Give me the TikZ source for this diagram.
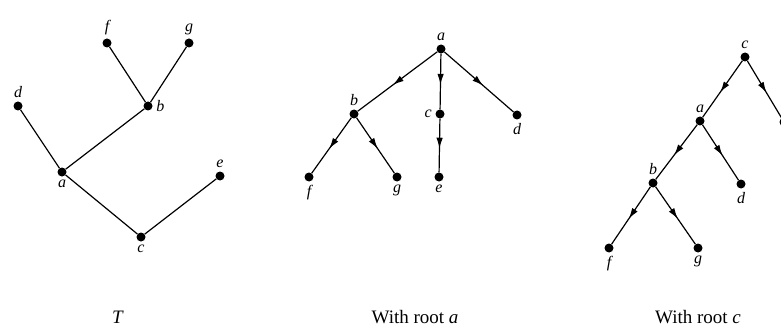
\documentclass[tikz,border=0pt]{standalone}
\usepackage{fontspec}
\setmainfont{Liberation Serif}
\usetikzlibrary{arrows.meta,decorations.markings}

\begin{document}
\begin{tikzpicture}[
    x=1pt, y=-1pt,
    vertex/.style={circle, fill=black, inner sep=0pt, minimum size=9pt},
    tedge/.style={line width=1.2pt},
    diredge/.style={tedge, postaction={decorate},
        decoration={markings,
            mark=at position 0.56 with {\arrow{Latex[length=11pt,width=6.5pt]}}}},
    every label/.style={font=\fontsize{16}{16}\selectfont\itshape,
        inner sep=1pt, label distance=2.5pt},
    caption/.style={font=\fontsize{19}{19}\selectfont, anchor=base}
]
\useasboundingbox (0,0) rectangle (781,326);
\clip (0,0) rectangle (781,326);

% Tree T
\node[vertex, label=above:f] (Tf) at (107,43) {};
\node[vertex, label=above:g] (Tg) at (189,43) {};
\node[vertex, label=above:d] (Td) at (18,106) {};
\node[vertex, label=right:b] (Tb) at (148,106) {};
\node[vertex, label=below:a] (Ta) at (62,172) {};
\node[vertex, label=above:e] (Te) at (220,176) {};
\node[vertex, label=below:c] (Tc) at (141,237) {};
\node[caption] (capT) at (118,323) {\textit{T}};

\draw[tedge] (Tf) -- (Tb);
\draw[tedge] (Tg) -- (Tb);
\draw[tedge] (Td) -- (Ta);
\draw[tedge] (Tb) -- (Ta);
\draw[tedge] (Ta) -- (Tc);
\draw[tedge] (Te) -- (Tc);

% With root a
\node[vertex, label=above:a] (Aa) at (441,49) {};
\node[vertex, label=above:b] (Ab) at (354,114) {};
\node[vertex, label=left:c] (Ac) at (440,114) {};
\node[vertex, label=below:d] (Ad) at (517,115) {};
\node[vertex, label=below:f] (Af) at (309,177) {};
\node[vertex, label=below:g] (Ag) at (397,177) {};
\node[vertex, label=below:e] (Ae) at (439,177) {};
\node[caption] (capA) at (415,323) {With root \textit{a}};

\draw[diredge] (Aa) -- (Ab);
\draw[diredge] (Aa) -- (Ac);
\draw[diredge] (Aa) -- (Ad);
\draw[diredge] (Ab) -- (Af);
\draw[diredge] (Ab) -- (Ag);
\draw[diredge] (Ac) -- (Ae);

% With root c
\node[vertex, label=above:c] (Cc) at (745,57) {};
\node[vertex, label=above:a] (Ca) at (700,121) {};
\node[vertex, label=above:b] (Cb) at (653,183) {};
\node[vertex, label=below:d] (Cd) at (741,184) {};
\node[vertex, label=below:f] (Cf) at (609,248) {};
\node[vertex, label=below:g] (Cg) at (698,248) {};
\node[vertex] (Ce) at (784,122) {};
\node[caption] (capC) at (698,323) {With root \textit{c}};

\draw[diredge] (Cc) -- (Ca);
\draw[diredge] (Cc) -- (Ce);
\draw[diredge] (Ca) -- (Cb);
\draw[diredge] (Ca) -- (Cd);
\draw[diredge] (Cb) -- (Cf);
\draw[diredge] (Cb) -- (Cg);

\end{tikzpicture}
\end{document}
